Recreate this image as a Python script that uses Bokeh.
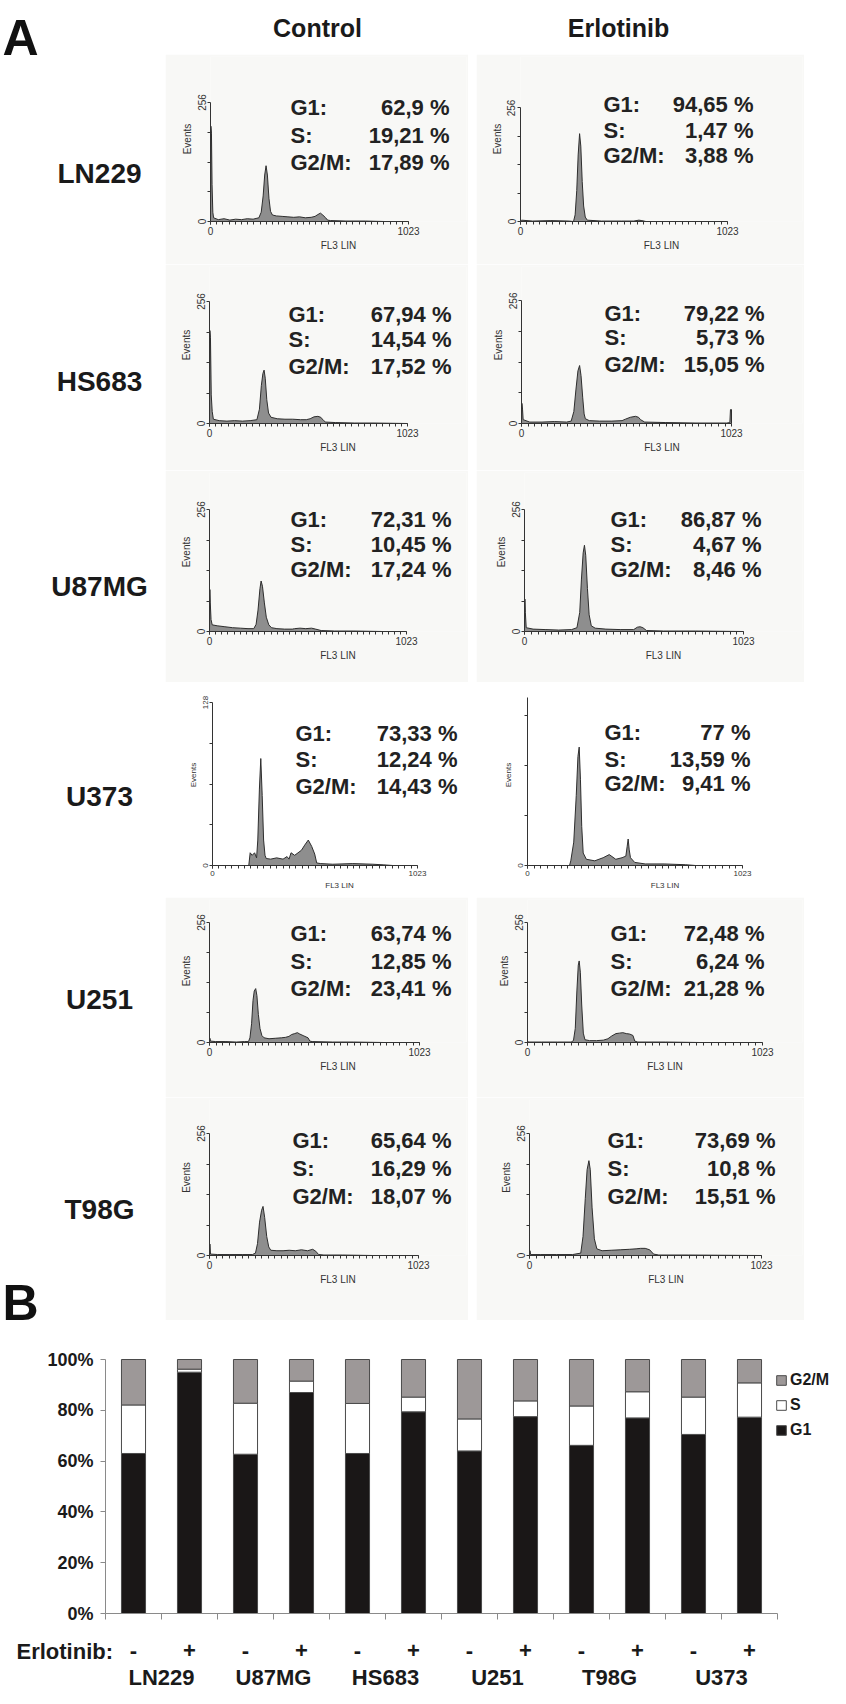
from bokeh.plotting import figure
from bokeh.models import (Range1d, FixedTicker, Label, LinearAxis, Legend, LegendItem,
                          ColumnDataSource, Spacer, PrintfTickFormatter)
from bokeh.layouts import column, row
from bokeh.embed import file_html
from bokeh.resources import INLINE

FONT = "Liberation Sans"
SMALL_FONT = "Liberation Sans Narrow, Liberation Sans"
BASE_FIX = 0.2  # em; alphabetic-baseline correction

# ---------------- Panel A data ----------------
cell_lines_a = ["LN229", "HS683", "U87MG", "U373", "U251", "T98G"]
phase_labels = ["G1:", "S:", "G2/M:"]
control_g1 = [62.9, 67.94, 72.31, 73.33, 63.74, 65.64]
control_s = [19.21, 14.54, 10.45, 12.24, 12.85, 16.29]
control_g2m = [17.89, 17.52, 17.24, 14.43, 23.41, 18.07]
erlotinib_g1 = [94.65, 79.22, 86.87, 77, 72.48, 73.69]
erlotinib_s = [1.47, 5.73, 4.67, 13.59, 6.24, 10.8]
erlotinib_g2m = [3.88, 15.05, 8.46, 9.41, 21.28, 15.51]

# histogram traces (FL3 LIN channel, events)
ln229_ctrl_ch = [0, 2, 5, 8, 12, 16, 40, 70, 100, 130, 160, 190, 220, 240, 250, 262, 272, 280, 287, 294, 302, 310, 320, 340, 370, 400, 430, 460, 490, 520, 540, 555, 568, 580, 595, 605, 620, 700, 800, 900, 1023]
ln229_ctrl_ev = [0, 205, 190, 80, 20, 8, 4, 6, 3, 5, 4, 6, 5, 7, 8, 20, 55, 100, 120, 100, 50, 22, 14, 12, 11, 10, 9, 10, 8, 9, 11, 15, 18, 14, 8, 3, 2, 1, 1, 0, 0]
ln229_erl_ch = [0, 5, 60, 150, 240, 262, 270, 278, 285, 292, 298, 305, 312, 320, 330, 400, 500, 560, 585, 600, 620, 1023]
ln229_erl_ev = [0, 3, 1, 2, 1, 0, 15, 70, 150, 198, 170, 90, 35, 10, 3, 1, 1, 1, 3, 2, 0, 0]
hs683_ctrl_ch = [0, 2, 5, 9, 14, 20, 50, 90, 130, 170, 210, 245, 258, 268, 276, 282, 288, 296, 305, 318, 350, 390, 430, 470, 500, 520, 540, 560, 575, 590, 600, 650, 750, 850, 1023]
hs683_ctrl_ev = [0, 195, 180, 60, 25, 9, 6, 5, 6, 5, 6, 8, 30, 80, 105, 112, 95, 50, 22, 13, 10, 9, 9, 8, 8, 10, 14, 15, 13, 6, 3, 2, 1, 1, 0]
hs683_erl_ch = [0, 2, 5, 8, 40, 100, 160, 220, 242, 255, 265, 275, 283, 290, 298, 305, 311, 330, 380, 440, 490, 506, 530, 555, 570, 580, 600, 700, 850, 1000, 1015, 1018, 1023, 1023]
hs683_erl_ev = [0, 42, 30, 8, 3, 3, 4, 3, 5, 25, 70, 110, 121, 100, 55, 20, 10, 6, 5, 5, 6, 9, 13, 15, 13, 8, 3, 2, 1, 1, 2, 29, 29, 0]
u87mg_ctrl_ch = [0, 2, 4, 8, 14, 40, 80, 120, 160, 200, 230, 242, 252, 262, 268, 275, 285, 295, 308, 322, 350, 390, 430, 442, 470, 500, 530, 551, 580, 650, 750, 900, 1023]
u87mg_ctrl_ev = [0, 88, 60, 25, 14, 12, 10, 8, 7, 6, 6, 15, 45, 90, 106, 95, 60, 30, 14, 8, 6, 5, 5, 6, 7, 6, 7, 5, 2, 1, 1, 0, 0]
u87mg_erl_ch = [0, 2, 4, 8, 40, 100, 160, 220, 245, 258, 266, 274, 280, 286, 294, 302, 312, 330, 380, 450, 510, 527, 540, 553, 570, 650, 800, 1023]
u87mg_erl_ev = [0, 68, 40, 8, 5, 4, 3, 4, 8, 40, 110, 165, 181, 160, 90, 35, 12, 7, 5, 4, 4, 9, 10, 8, 2, 1, 1, 0]
u373_ctrl_ch = [0, 181, 188, 198, 210, 220, 226, 234, 241, 248, 255, 262, 268, 290, 320, 352, 372, 382, 392, 410, 444, 460, 478, 495, 510, 520, 540, 600, 700, 800, 855, 900, 1023]
u373_ctrl_ev = [0, 0, 10, 8, 10, 6, 20, 60, 84, 55, 20, 8, 5.5, 5, 6, 5, 7, 5, 10, 8, 12, 16, 20, 15, 9, 2, 1.5, 1, 1.5, 1, 0.5, 0, 0]
u373_erl_ch = [0, 200, 206, 220, 232, 240, 246, 252, 258, 265, 280, 320, 360, 389, 420, 450, 468, 474, 479, 484, 490, 510, 560, 650, 753, 800, 1023]
u373_erl_ev = [0, 0, 3, 15, 45, 70, 76, 55, 25, 8, 4, 3, 5, 7, 4, 5, 6, 12, 17, 10, 5, 2, 1, 1, 0.5, 0, 0]
u251_ctrl_ch = [0, 2, 5, 30, 80, 130, 170, 190, 197, 205, 212, 218, 225, 231, 238, 246, 255, 266, 290, 320, 350, 370, 387, 400, 415, 428, 440, 460, 480, 489, 500, 600, 700, 850, 1023]
u251_ctrl_ev = [0, 9, 3, 2, 2, 1, 2, 2, 10, 40, 90, 110, 115, 100, 60, 30, 15, 10, 8, 9, 10, 11, 13, 17, 19, 21, 18, 14, 10, 3, 2, 1, 1, 0, 0]
u251_erl_ch = [0, 2, 5, 60, 130, 190, 200, 208, 215, 221, 225, 230, 236, 243, 250, 270, 300, 330, 350, 367, 385, 400, 415, 430, 445, 459, 467, 480, 600, 750, 1023]
u251_erl_ev = [0, 2, 1, 1, 1, 1, 4, 30, 110, 165, 174, 150, 80, 20, 6, 4, 4, 5, 8, 14, 19, 20, 21, 19, 18, 15, 3, 1, 1, 0, 0]
t98g_ctrl_ch = [0, 2, 5, 40, 100, 160, 210, 225, 235, 245, 255, 262, 270, 280, 290, 300, 330, 360, 390, 420, 450, 480, 505, 520, 534, 560, 650, 800, 1023]
t98g_ctrl_ev = [0, 24, 3, 2, 2, 2, 2, 5, 25, 70, 95, 103, 80, 40, 18, 11, 10, 10, 11, 10, 12, 10, 13, 9, 2, 1, 1, 0, 0]
t98g_erl_ch = [0, 2, 5, 50, 120, 190, 226, 236, 246, 254, 262, 268, 276, 286, 297, 320, 360, 400, 440, 470, 490, 510, 530, 547, 570, 700, 1023]
t98g_erl_ev = [0, 10, 2, 2, 2, 2, 5, 40, 120, 180, 199, 180, 100, 35, 14, 10, 11, 12, 13, 14, 15, 15, 12, 3, 1, 1, 0]

# ---------------- Panel B data ----------------
b_cell_lines = ["LN229", "U87MG", "HS683", "U251", "T98G", "U373"]
b_treatment = ["-", "+", "-", "+", "-", "+", "-", "+", "-", "+", "-", "+"]
b_g1 = [63, 95, 62.7, 87, 63, 79.4, 64, 77.5, 66.2, 77, 70.5, 77.3]
b_s = [19.1, 1.2, 20.1, 4.5, 19.7, 5.8, 12.6, 6.2, 15.5, 10.3, 14.7, 13.5]
b_g2m = [17.9, 3.8, 17.2, 8.5, 17.3, 14.8, 23.4, 16.3, 18.3, 12.7, 14.8, 9.2]
b_ticks = [0, 20, 40, 60, 80, 100]

# ---------------- layout constants (reference pixel coordinates) ----------------
A_BOTTOM = 1345
ROW_BANDS = [(62, 272), (272, 478), (478, 690), (690, 905), (905, 1105), (1105, 1328)]
CTRL_FRAME = [(218, 416, 110, 229), (217, 415, 309, 431), (217, 414, 517, 639),
              (220, 425, 710, 873), (217, 427, 930, 1050), (217, 426, 1141, 1263)]
ERL_FRAME = [(528, 735, 117, 234), (529, 739, 309, 434), (532, 751, 517, 639),
             (535, 750, 705, 877), (535, 770, 930, 1050), (537, 769, 1141, 1263)]
CTRL_AX = [(256, 64, "256"), (256, 64, "256"), (256, 64, "256"), (128, 32, "128"), (256, 64, "256"), (256, 64, "256")]
ERL_AX = [(256, 64, "256"), (256, 64, "256"), (256, 64, "256"), (108, 32, ""), (256, 64, "256"), (256, 64, "256")]
CTRL_TEXT = [(298, 457, (111, 139, 166)), (296, 459, (318, 343, 370)), (298, 459, (523, 548, 573)),
             (303, 465, (737, 763, 790)), (298, 459, (937, 965, 992)), (300, 459, (1144, 1172, 1200))]
ERL_TEXT = [(611, 761, (110, 137, 163)), (612, 772, (318, 343, 370)), (618, 769, (523, 548, 573)),
            (612, 758, (738, 765, 790)), (618, 772, (937, 965, 992)), (615, 783, (1144, 1172, 1200))]
LABEL_Y = [177, 385, 590, 800, 1003, 1213]
CTRL_X = (173, 476)
ERL_X = (484, 812)
PANEL_BG = ["#f8f8f6", "#f8f8f6", "#f8f8f6", "#ffffff", "#f8f8f6", "#f8f8f6"]

ctrl_hists = [(ln229_ctrl_ch, ln229_ctrl_ev), (hs683_ctrl_ch, hs683_ctrl_ev), (u87mg_ctrl_ch, u87mg_ctrl_ev),
              (u373_ctrl_ch, u373_ctrl_ev), (u251_ctrl_ch, u251_ctrl_ev), (t98g_ctrl_ch, t98g_ctrl_ev)]
erl_hists = [(ln229_erl_ch, ln229_erl_ev), (hs683_erl_ch, hs683_erl_ev), (u87mg_erl_ch, u87mg_erl_ev),
             (u373_erl_ch, u373_erl_ev), (u251_erl_ch, u251_erl_ev), (t98g_erl_ch, t98g_erl_ev)]


def fmt(v):
    return f"{v:g}".replace(".", ",") + " %"


def make_hist(ch, ev, fx, band, frame, ax, bg, text, values, small=False):
    fx0, fx1 = fx
    bt, bb = band
    px0, px1, pyt, pyb = frame
    axmax, step, toplab = ax
    W, H = fx1 - fx0, bb - bt
    fr_right, fr_top = fx1 - 2, bt + 2
    x_end = 1023 * (fr_right - px0) / (px1 - px0)
    y_end = axmax * (pyb - fr_top) / (pyb - pyt)
    p = figure(width=W, height=H, x_range=Range1d(0, x_end), y_range=Range1d(0, y_end),
               min_border_left=px0 - fx0, min_border_right=fx1 - fr_right,
               min_border_top=fr_top - bt, min_border_bottom=bb - pyb,
               toolbar_location=None, output_backend="svg",
               background_fill_color=bg, border_fill_color=bg, outline_line_color=None)
    p.grid.visible = False
    p.patch(ch, ev, fill_color="#8e8e8e", line_color="#2e2e2e", line_width=1)
    fs = "8px" if small else "10px"
    xa = p.xaxis[0]
    xa.bounds = (0, 1023)
    xa.ticker = FixedTicker(ticks=[0, 1023], minor_ticks=list(range(0, 1024, 32)))
    xa.major_tick_out, xa.major_tick_in, xa.minor_tick_out, xa.minor_tick_in = 3, 0, 3, 0
    xa.axis_label = "FL3 LIN"
    for a in (xa, p.yaxis[0]):
        a.axis_line_color = "#333333"
        a.major_tick_line_color = "#333333"
        a.minor_tick_line_color = "#333333"
        a.major_label_text_font = SMALL_FONT
        a.major_label_text_font_size = fs
        a.major_label_text_color = "#333333"
        a.axis_label_text_font = SMALL_FONT
        a.axis_label_text_font_size = fs
        a.axis_label_text_font_style = "normal"
        a.axis_label_text_color = "#333333"
        a.major_label_standoff = 2
        a.axis_label_standoff = 2
    ya = p.yaxis[0]
    ya.bounds = (0, axmax)
    yt = list(range(0, axmax + 1, step))
    ya.ticker = FixedTicker(ticks=yt, minor_ticks=[])
    ya.major_label_overrides = {t: ("0" if t == 0 else (toplab if t == axmax else "")) for t in yt}
    ya.major_label_orientation = "vertical"
    ya.major_tick_out, ya.major_tick_in = 3, 0
    ya.axis_label = "Events"
    xl, xr, ys = text
    for lab, val, yc in zip(phase_labels, values, ys):
        base = yc + 7.9 - BASE_FIX * 22
        yd = (pyb - base) / (pyb - pyt) * axmax
        p.add_layout(Label(x=(xl - px0) / (px1 - px0) * 1023, y=yd, text=lab, text_align="left",
                           text_baseline="alphabetic", text_font=FONT, text_font_style="bold",
                           text_font_size="22px", text_color="#222222"))
        p.add_layout(Label(x=(xr - px0) / (px1 - px0) * 1023, y=yd, text=fmt(val), text_align="right",
                           text_baseline="alphabetic", text_font=FONT, text_font_style="bold",
                           text_font_size="22px", text_color="#222222"))
    return p


# ---------------- left label column ----------------
left = figure(width=165, height=A_BOTTOM - 8, title=None, x_range=Range1d(8, 173), y_range=Range1d(A_BOTTOM, 8),
              min_border=0, toolbar_location=None, output_backend="svg",
              x_axis_location=None, y_axis_location=None, outline_line_color=None)
left.grid.visible = False
left.add_layout(Label(x=10, y=45, text="A", text_align="left", text_baseline="alphabetic",
                      text_font=FONT, text_font_style="bold", text_font_size="50px", text_color="#111111"))
left.add_layout(Label(x=10, y=1320 - BASE_FIX * 50, text="B", text_align="left", text_baseline="alphabetic",
                      text_font=FONT, text_font_style="bold", text_font_size="50px", text_color="#111111"))
for name, yc in zip(cell_lines_a, LABEL_Y):
    left.add_layout(Label(x=107, y=yc + 10 - BASE_FIX * 28, text=name, text_align="center",
                          text_baseline="alphabetic", text_font=FONT, text_font_style="bold",
                          text_font_size="28px", text_color="#1a1a1a"))

# ---------------- column headers ----------------
header = figure(width=665, height=54, title=None, x_range=Range1d(173, 838), y_range=Range1d(62, 8),
                min_border=0, toolbar_location=None, output_backend="svg",
                x_axis_location=None, y_axis_location=None, outline_line_color=None)
header.grid.visible = False
for txt, xc in (("Control", 325), ("Erlotinib", 626)):
    header.add_layout(Label(x=xc, y=40 - BASE_FIX * 25, text=txt, text_align="center", text_baseline="alphabetic",
                            text_font=FONT, text_font_style="bold", text_font_size="25px", text_color="#1a1a1a"))

rows = [header]
for i in range(6):
    pc = make_hist(ctrl_hists[i][0], ctrl_hists[i][1], CTRL_X, ROW_BANDS[i], CTRL_FRAME[i], CTRL_AX[i],
                   PANEL_BG[i], CTRL_TEXT[i], (control_g1[i], control_s[i], control_g2m[i]), small=(i == 3))
    pe = make_hist(erl_hists[i][0], erl_hists[i][1], ERL_X, ROW_BANDS[i], ERL_FRAME[i], ERL_AX[i],
                   PANEL_BG[i], ERL_TEXT[i], (erlotinib_g1[i], erlotinib_s[i], erlotinib_g2m[i]), small=(i == 3))
    h = ROW_BANDS[i][1] - ROW_BANDS[i][0]
    rows.append(row(pc, Spacer(width=ERL_X[0] - CTRL_X[1], height=h), pe,
                    Spacer(width=838 - ERL_X[1], height=h)))
rows.append(Spacer(width=665, height=A_BOTTOM - ROW_BANDS[-1][1]))
panel_a = row(left, column(*rows))

# ---------------- Panel B (frame covers whole canvas; axes at fixed locations) ----------------
B_TOP, B_BOT, B_LEFT, B_RIGHT = A_BOTTOM, 1696, 8, 838
AX_X, AX_Y, CAT_W, PX_PCT = 113, 1621, 56, 2.54
xb = [i + 0.5 for i in range(12)]
src = ColumnDataSource(dict(x=xb, G1=b_g1, S=b_s, G2M=b_g2m))
pb = figure(width=B_RIGHT - B_LEFT, height=B_BOT - B_TOP, title=None,
            x_range=Range1d((B_LEFT - AX_X) / CAT_W, (B_RIGHT - AX_X) / CAT_W),
            y_range=Range1d((AX_Y - B_BOT) / PX_PCT, (AX_Y - B_TOP) / PX_PCT),
            min_border=0, toolbar_location=None, output_backend="svg", outline_line_color=None)
pb.grid.visible = False
rs = pb.vbar_stack(["G1", "S", "G2M"], x="x", width=0.43, source=src,
                   fill_color=["#1a1717", "#ffffff", "#9d9898"], line_color="#4a4a4a", line_width=1)

ya = pb.yaxis[0]
ya.fixed_location = 0
ya.bounds = (0, 100)
ya.ticker = FixedTicker(ticks=b_ticks, minor_ticks=[])
ya.formatter = PrintfTickFormatter(format="%d%%")
ya.major_tick_out, ya.major_tick_in = 5, 0
ya.major_label_standoff = 7
ya.major_label_text_font = FONT
ya.major_label_text_font_style = "bold"
ya.major_label_text_font_size = "18px"
ya.major_label_text_color = "#1a1a1a"
ya.axis_line_color = "#8a8a8a"
ya.major_tick_line_color = "#8a8a8a"

xa = pb.xaxis[0]
xa.fixed_location = 0
xa.bounds = (0, 12)
xa.ticker = FixedTicker(ticks=xb, minor_ticks=list(range(13)))
xa.major_label_overrides = {x: t for x, t in zip(xb, b_treatment)}
xa.major_tick_out, xa.major_tick_in = 0, 0
xa.minor_tick_out, xa.minor_tick_in = 6, 0
xa.axis_line_color = "#8a8a8a"
xa.minor_tick_line_color = "#8a8a8a"
xa.major_label_standoff = 23
xa.major_label_text_font = FONT
xa.major_label_text_font_style = "bold"
xa.major_label_text_font_size = "22px"
xa.major_label_text_color = "#1a1a1a"

name_ticks = [2 * i + 1 for i in range(6)]
xa2 = LinearAxis(ticker=FixedTicker(ticks=name_ticks, minor_ticks=[]),
                 fixed_location=(AX_Y - 1672) / PX_PCT,
                 major_label_overrides={t: n for t, n in zip(name_ticks, b_cell_lines)},
                 axis_line_color=None, major_tick_line_color=None, minor_tick_line_color=None,
                 major_tick_out=0, major_label_standoff=0, major_label_text_font=FONT,
                 major_label_text_font_style="bold",
                 major_label_text_font_size="22px", major_label_text_color="#1a1a1a")
pb.add_layout(xa2, "below")

pb.add_layout(Label(x=(24 - AX_X) / CAT_W, y=(AX_Y - (1663 - BASE_FIX * 22)) / PX_PCT, text="Erlotinib:",
                    text_align="left", text_baseline="alphabetic", text_font=FONT, text_font_style="bold",
                    text_font_size="22px", text_color="#1a1a1a"))

legend = Legend(items=[LegendItem(label="G2/M", renderers=[rs[2]]),
                       LegendItem(label="S", renderers=[rs[1]]),
                       LegendItem(label="G1", renderers=[rs[0]])],
                location=(783 - B_LEFT, B_BOT - 1448), glyph_width=12, glyph_height=12,
                label_height=20, spacing=5, padding=0, margin=0, label_standoff=3,
                border_line_color=None, background_fill_alpha=0,
                label_text_font=FONT, label_text_font_style="bold", label_text_font_size="16px",
                label_text_color="#1a1a1a")
pb.add_layout(legend)

layout = column(panel_a, pb)
open("out.html", "w").write(file_html(layout, INLINE, title="Cell cycle"))
